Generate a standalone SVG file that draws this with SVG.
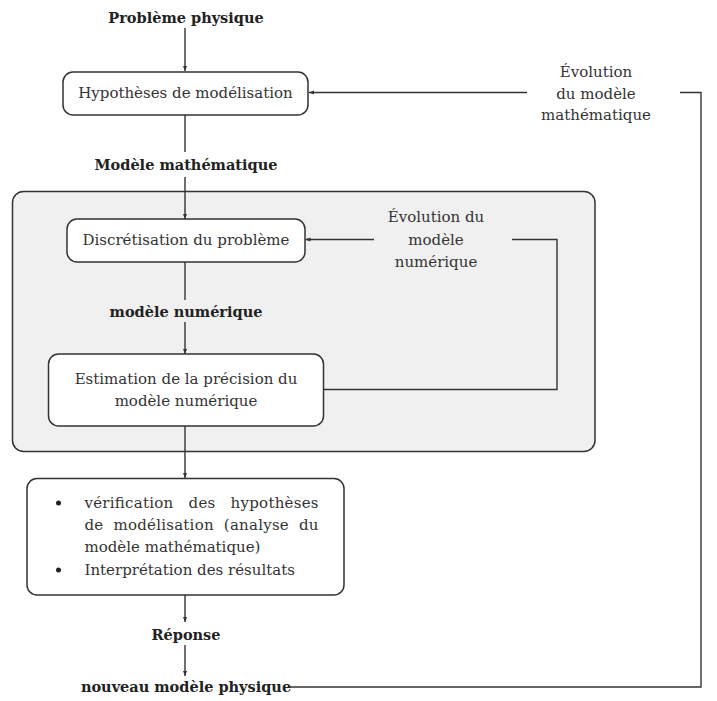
<svg xmlns="http://www.w3.org/2000/svg" width="717" height="701" viewBox="0 0 717 701">
<defs>
<marker id="ah" viewBox="0 0 10 10" refX="10" refY="5" markerWidth="5" markerHeight="5" orient="auto" markerUnits="userSpaceOnUse">
<path d="M0,1 L10,5 L0,9 Z" fill="#333"/>
</marker>
<style>
text{font-family:"DejaVu Serif","Liberation Serif",serif;fill:#333;font-size:15px}
.b{font-weight:bold;fill:#222;font-size:14.5px}
.c{text-anchor:middle}
.box{fill:#fff;stroke:#333;stroke-width:1.5}
.ln{fill:none;stroke:#333;stroke-width:1.4}
.ar{fill:none;stroke:#333;stroke-width:1.4;marker-end:url(#ah)}
</style>
</defs>
<rect width="717" height="701" fill="#fff"/>
<g id="numeric-area">
<rect x="12.5" y="191.5" width="582.5" height="260" rx="11" fill="#f0f0f0" stroke="#333" stroke-width="1.5"/>
</g>
<g id="connectors">
<line class="ar" x1="185" y1="28" x2="185" y2="71"/>
<line class="ln" x1="185" y1="115" x2="185" y2="152"/>
<line class="ar" x1="185" y1="177" x2="185" y2="219"/>
<line class="ln" x1="185" y1="262" x2="185" y2="300"/>
<line class="ar" x1="185" y1="322" x2="185" y2="354"/>
<line class="ar" x1="185" y1="426" x2="185" y2="478"/>
<line class="ar" x1="185" y1="595" x2="185" y2="622"/>
<line class="ar" x1="185" y1="645" x2="185" y2="676"/>
<line class="ar" x1="527" y1="92.5" x2="309" y2="92.5"/>
<polyline class="ln" points="680,92.5 701,92.5 701,687 290,687"/>
<line class="ar" x1="374" y1="239.5" x2="305.5" y2="239.5"/>
<polyline class="ln" points="512,239.5 557,239.5 557,389.5 323.5,389.5"/>
</g>
<g id="probleme-physique"><text class="b c" x="186" y="23">Problème physique</text></g>
<g id="hypotheses"><rect class="box" x="63" y="72" width="245" height="43" rx="10"/><text class="c" x="185.5" y="98">Hypothèses de modélisation</text></g>
<g id="modele-mathematique"><text class="b c" x="186" y="170">Modèle mathématique</text></g>
<g id="evolution-math"><text class="c" x="596" y="77">Évolution</text><text class="c" x="596" y="98.5">du modèle</text><text class="c" x="596" y="120">mathématique</text></g>
<g id="discretisation"><rect class="box" x="67" y="219" width="238" height="43" rx="10"/><text class="c" x="186" y="245">Discrétisation du problème</text></g>
<g id="evolution-num"><text class="c" x="436" y="222">Évolution du</text><text class="c" x="436" y="245">modèle</text><text class="c" x="436" y="267">numérique</text></g>
<g id="modele-numerique"><text class="b c" x="186" y="317">modèle numérique</text></g>
<g id="estimation"><rect class="box" x="48.5" y="354" width="275" height="72" rx="10"/><text class="c" x="186" y="383.5">Estimation de la précision du</text><text class="c" x="186" y="405.5">modèle numérique</text></g>
<g id="verification"><rect class="box" x="27" y="478.5" width="317" height="116.5" rx="10"/>
<circle cx="58.5" cy="503" r="2.5" fill="#222"/><circle cx="58.5" cy="570" r="2.5" fill="#222"/>
<text x="84.5" y="508" textLength="234" lengthAdjust="spacing" xml:space="preserve">vérification   des   hypothèses</text>
<text x="84.5" y="530" textLength="234" lengthAdjust="spacing" xml:space="preserve">de  modélisation  (analyse  du</text>
<text x="84.5" y="552">modèle mathématique)</text>
<text x="84.5" y="574.5">Interprétation des résultats</text>
</g>
<g id="reponse"><text class="b c" x="186" y="640">Réponse</text></g>
<g id="nouveau-modele"><text class="b c" x="186" y="692">nouveau modèle physique</text></g>
</svg>
